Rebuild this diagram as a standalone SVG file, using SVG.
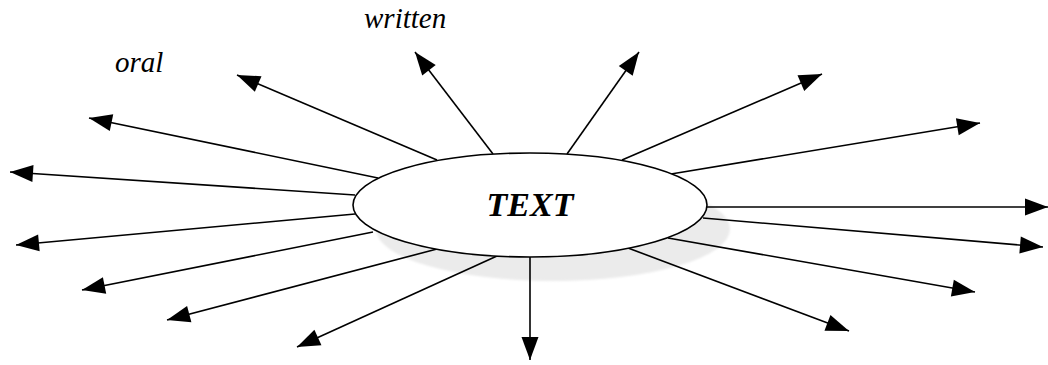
<svg xmlns="http://www.w3.org/2000/svg" width="1048" height="365" viewBox="0 0 1048 365">
<defs>
<style>
.conn line{stroke:#000;stroke-width:1.6;fill:none;marker-end:url(#ah)}
.lbl{font-family:"Liberation Serif","Times New Roman",serif;font-style:italic;font-size:29px;fill:#000}
.main{font-family:"Liberation Serif","Times New Roman",serif;font-style:italic;font-weight:bold;font-size:34px;fill:#000}
</style>
<marker id="ah" markerUnits="userSpaceOnUse" markerWidth="24" markerHeight="17" refX="23" refY="8.5" orient="auto" overflow="visible">
<path d="M0,0 L23,8.5 L0,17 Z" fill="#000"/>
</marker>
<filter id="soft" x="-10%" y="-20%" width="120%" height="140%"><feGaussianBlur stdDeviation="1.2"/></filter>
</defs>
<rect width="1048" height="365" fill="#fff"/>
<g id="shadow"><ellipse cx="553" cy="229" rx="177" ry="52" fill="#ebebeb" filter="url(#soft)"/></g>
<g id="connectors" class="conn">
<line x1="437" y1="160" x2="237" y2="75"/>
<line x1="493" y1="154" x2="415" y2="52"/>
<line x1="567" y1="154" x2="639" y2="52"/>
<line x1="622" y1="160" x2="822" y2="74"/>
<line x1="671" y1="174" x2="980" y2="123"/>
<line x1="707" y1="207" x2="1048" y2="207"/>
<line x1="703" y1="218" x2="1043" y2="247"/>
<line x1="668" y1="238" x2="975" y2="292"/>
<line x1="628" y1="248" x2="849" y2="331"/>
<line x1="530" y1="257" x2="530" y2="360"/>
<line x1="497" y1="256" x2="297" y2="347"/>
<line x1="437" y1="249" x2="167" y2="320"/>
<line x1="373" y1="232" x2="82" y2="290"/>
<line x1="355" y1="214" x2="16" y2="245"/>
<line x1="355" y1="195" x2="10" y2="172"/>
<line x1="378" y1="178" x2="89" y2="118"/>
</g>
<g id="node-text">
<ellipse cx="530" cy="205" rx="177" ry="52" fill="#fff" stroke="#000" stroke-width="1.6"/>
<text class="main" x="530" y="216" text-anchor="middle">TEXT</text>
</g>
<g id="label-oral"><text class="lbl" x="115" y="72">oral</text></g>
<g id="label-written"><text class="lbl" x="364" y="28">written</text></g>
</svg>
